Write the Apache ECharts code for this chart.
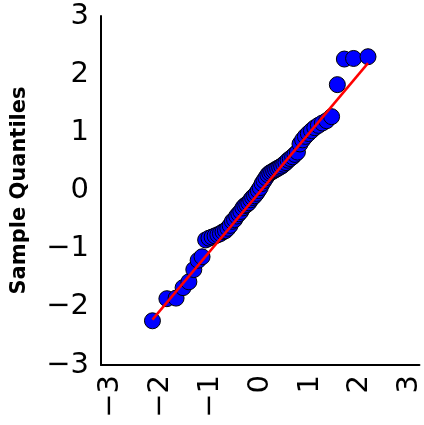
<!DOCTYPE html>
<html>
<head>
<meta charset="utf-8">
<script src="https://cdn.jsdelivr.net/npm/echarts@6/dist/echarts.min.js"></script>
<style>
html,body{margin:0;padding:0;background:#fff;}
#chart{width:424px;height:425px;}
</style>
</head>
<body>
<div id="chart"></div>
<script>
// Theoretical quantiles (x) and ordered sample values (y)
var theoretical = [-2.166,-1.876,-1.691,-1.550,-1.434,-1.335,-1.248,-1.169,-1.097,-1.030,
  -0.967,-0.908,-0.852,-0.799,-0.748,-0.698,-0.651,-0.605,-0.560,-0.516,
  -0.473,-0.431,-0.390,-0.349,-0.309,-0.270,-0.230,-0.191,-0.153,-0.114,
  -0.076,-0.038,0.000,0.038,0.076,0.114,0.153,0.191,0.230,0.270,
  0.309,0.349,0.390,0.431,0.473,0.516,0.560,0.605,0.651,0.698,
  0.748,0.799,0.852,0.908,0.967,1.030,1.097,1.169,1.248,1.335,
  1.434,1.550,1.691,1.876,2.166];
var sample = [-2.24,-1.86,-1.85,-1.67,-1.57,-1.36,-1.20,-1.14,-0.85,-0.82,
  -0.80,-0.78,-0.76,-0.74,-0.71,-0.69,-0.65,-0.60,-0.53,-0.50,
  -0.44,-0.40,-0.36,-0.30,-0.26,-0.24,-0.21,-0.16,-0.12,-0.09,
  -0.05,0.00,0.05,0.12,0.17,0.22,0.27,0.30,0.32,0.34,
  0.36,0.38,0.40,0.42,0.45,0.48,0.52,0.55,0.58,0.62,
  0.66,0.80,0.87,0.93,0.98,1.03,1.08,1.12,1.16,1.20,
  1.27,1.82,2.26,2.27,2.30];
// Fitted reference line end points
var lineX = [-2.166, 2.166];
var lineY = [-2.22, 2.19];
// Tick labels
var xTicks = [-3,-2,-1,0,1,2,3];
var yTicks = [-3,-2,-1,0,1,2,3];
var yTitle = 'Sample Quantiles';

var pts = theoretical.map(function(x,i){return [x, sample[i]];});
var linePts = lineX.map(function(x,i){return [x, lineY[i]];});
var font = 'DejaVu Sans';
function fmt(v){return v<0 ? '\u2212'+Math.abs(v) : String(v);}

var chart = echarts.init(document.getElementById('chart'), null, {renderer:'canvas'});
chart.setOption({
  animation:false,
  backgroundColor:'#fff',
  grid:{left:101, top:16, width:320, height:349, containLabel:false},
  xAxis:{
    type:'value', min:-3.2, max:3.2,
    axisLine:{show:true, onZero:false, lineStyle:{color:'#000', width:2}},
    axisTick:{show:false},
    splitLine:{show:false},
    axisLabel:{customValues:xTicks, rotate:90, fontSize:29, fontFamily:font, color:'#000', margin:10, formatter:fmt}
  },
  yAxis:{
    type:'value', min:-3, max:3,
    name:yTitle, nameLocation:'middle', nameGap:71,
    nameTextStyle:{fontSize:21, fontWeight:'bold', fontFamily:font, color:'#000'},
    axisLine:{show:true, onZero:false, lineStyle:{color:'#000', width:2}},
    axisTick:{show:false},
    splitLine:{show:false},
    axisLabel:{customValues:yTicks, fontSize:29, fontFamily:font, color:'#000', margin:12, formatter:fmt}
  },
  series:[
    {type:'scatter', data:pts, symbolSize:16, z:2,
     itemStyle:{color:'#0000ff', borderColor:'#000', borderWidth:1, opacity:1}},
    {type:'line', data:linePts, showSymbol:false, symbol:'none', z:3,
     lineStyle:{color:'#ff0000', width:2.5}}
  ]
});
</script>
</body>
</html>
